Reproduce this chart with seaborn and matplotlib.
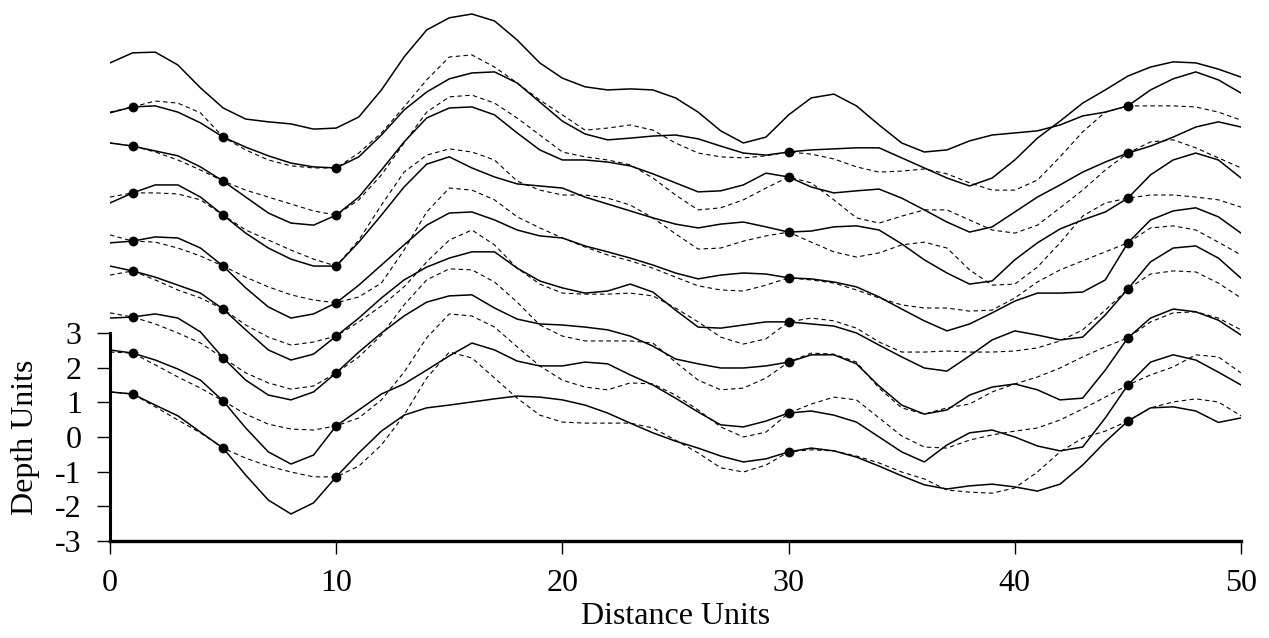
import numpy as np
import pandas as pd
import matplotlib
matplotlib.use('Agg')
import matplotlib.pyplot as plt
import seaborn as sns

# distance along the section
distance = list(range(51))

# horizons (solid = true surface, dashed = estimate), depth units
top_horizon = [10.79, 11.08, 11.10, 10.73, 10.07, 9.49, 9.17, 9.09, 9.03, 8.88, 8.91,
               9.23, 10.01, 10.96, 11.74, 12.09, 12.20, 12.00, 11.45, 10.79, 10.35,
               10.10, 10.01, 10.04, 10.01, 9.78, 9.37, 8.83, 8.48, 8.65, 9.29,
               9.78, 9.89, 9.55, 9.00, 8.48, 8.22, 8.28, 8.54, 8.71, 8.77,
               8.83, 9.00, 9.26, 9.37, 9.55, 10.01, 10.33, 10.53, 10.30, 9.92]

horizon8 = [9.35, 9.52, 9.55, 9.37, 9.06, 8.65, 8.36, 8.11, 7.90, 7.79, 7.76,
            8.08, 8.71, 9.43, 9.95, 10.33, 10.50, 10.53, 10.21, 9.66, 9.11,
            8.74, 8.57, 8.62, 8.68, 8.71, 8.60, 8.39, 8.19, 8.13, 8.22,
            8.28, 8.31, 8.34, 8.34, 8.05, 7.76, 7.47, 7.24, 7.47, 7.99,
            8.62, 9.11, 9.63, 10.01, 10.41, 10.67, 10.82, 10.79, 10.61, 10.38]
horizon8_est = [9.37, 9.52, 9.69, 9.63, 9.35, 8.65, 8.28, 7.99, 7.82, 7.76, 7.76,
                8.19, 8.77, 9.52, 10.30, 10.96, 11.02, 10.67, 10.21, 9.72, 9.29,
                8.85, 8.91, 9.00, 8.85, 8.48, 8.19, 8.08, 8.05, 8.11, 8.22,
                8.16, 8.02, 7.79, 7.64, 7.67, 7.73, 7.59, 7.33, 7.12, 7.12,
                7.41, 8.08, 8.80, 9.37, 9.55, 9.55, 9.55, 9.52, 9.37, 9.14]

horizon7 = [8.48, 8.39, 8.25, 8.11, 7.79, 7.38, 6.92, 6.46, 6.17, 6.11, 6.40,
            6.92, 7.70, 8.51, 9.20, 9.49, 9.52, 9.29, 8.77, 8.28, 7.99,
            7.99, 7.93, 7.82, 7.59, 7.33, 7.07, 7.10, 7.27, 7.61, 7.50,
            7.21, 7.04, 7.10, 7.15, 6.89, 6.55, 6.20, 5.91, 6.06, 6.49,
            6.92, 7.27, 7.64, 7.93, 8.19, 8.39, 8.65, 8.94, 9.09, 8.94]
horizon7_est = [8.48, 8.39, 8.22, 7.99, 7.70, 7.38, 7.12, 6.92, 6.72, 6.52, 6.40,
                6.84, 7.56, 8.48, 9.37, 9.81, 9.86, 9.63, 9.20, 8.71, 8.22,
                8.08, 7.99, 7.85, 7.47, 6.98, 6.55, 6.61, 6.84, 7.18, 7.50,
                7.33, 6.84, 6.32, 6.17, 6.37, 6.55, 6.55, 6.26, 5.97, 5.88,
                6.11, 6.61, 7.12, 7.70, 8.19, 8.51, 8.57, 8.34, 8.05, 7.76]

horizon6 = [6.75, 7.04, 7.27, 7.27, 6.92, 6.40, 5.88, 5.45, 5.13, 4.93, 4.93,
            5.62, 6.40, 7.21, 7.87, 8.08, 7.76, 7.50, 7.30, 7.24, 7.18,
            6.92, 6.72, 6.52, 6.32, 6.14, 6.03, 6.14, 6.20, 6.06, 5.91,
            5.94, 6.06, 6.09, 5.97, 5.57, 5.11, 4.73, 4.41, 4.50, 5.11,
            5.60, 6.00, 6.26, 6.49, 6.89, 7.56, 7.99, 8.19, 7.99, 7.47]
horizon6_est = [6.92, 7.04, 7.04, 7.01, 6.84, 6.40, 5.97, 5.68, 5.39, 5.13, 4.93,
                5.68, 6.69, 7.64, 8.13, 8.31, 8.22, 7.99, 7.38, 7.12, 6.98,
                6.98, 6.89, 6.69, 6.32, 5.86, 5.42, 5.45, 5.65, 5.80, 5.91,
                5.62, 5.34, 5.19, 5.31, 5.54, 5.62, 5.45, 4.82, 4.38, 4.41,
                4.90, 5.60, 6.37, 6.75, 6.89, 6.98, 6.98, 6.92, 6.84, 6.63]

horizon5 = [5.60, 5.65, 5.77, 5.74, 5.45, 4.93, 4.30, 3.75, 3.43, 3.55, 3.87,
            4.38, 4.96, 5.54, 6.11, 6.46, 6.49, 6.26, 5.97, 5.80, 5.74,
            5.51, 5.34, 5.16, 4.96, 4.73, 4.56, 4.67, 4.73, 4.70, 4.59,
            4.56, 4.47, 4.33, 4.04, 3.69, 3.35, 3.06, 3.26, 3.58, 3.92,
            4.15, 4.15, 4.18, 4.53, 5.60, 6.26, 6.52, 6.61, 6.35, 5.88]
horizon5_est = [5.83, 5.65, 5.62, 5.45, 5.22, 4.93, 4.61, 4.33, 4.10, 3.95, 3.87,
                4.04, 4.44, 5.39, 6.49, 7.18, 7.12, 6.84, 6.35, 6.03, 5.74,
                5.48, 5.25, 5.08, 4.87, 4.61, 4.36, 4.24, 4.21, 4.38, 4.59,
                4.53, 4.44, 4.24, 4.01, 3.81, 3.72, 3.72, 3.63, 3.66, 4.01,
                4.47, 4.82, 5.08, 5.34, 5.60, 6.03, 6.09, 5.97, 5.62, 5.25]

horizon4 = [4.93, 4.79, 4.61, 4.38, 4.15, 3.69, 3.09, 2.51, 2.22, 2.39, 2.91,
            3.43, 4.01, 4.53, 4.90, 5.16, 5.34, 5.34, 4.87, 4.50, 4.30,
            4.15, 4.21, 4.41, 4.18, 3.66, 3.17, 3.14, 3.23, 3.32, 3.32,
            3.26, 3.20, 3.00, 2.65, 2.31, 1.99, 1.90, 2.34, 2.80, 3.06,
            2.94, 2.80, 2.88, 3.52, 4.27, 5.05, 5.45, 5.51, 5.16, 4.58]
horizon4_est = [4.67, 4.79, 4.53, 4.24, 4.01, 3.69, 3.23, 2.88, 2.65, 2.74, 2.91,
                3.32, 3.78, 4.33, 5.05, 5.68, 5.97, 5.54, 4.87, 4.41, 4.15,
                4.12, 4.12, 4.15, 4.07, 3.72, 3.32, 2.88, 2.68, 2.83, 3.32,
                3.43, 3.35, 3.14, 2.74, 2.45, 2.45, 2.48, 2.45, 2.45, 2.48,
                2.57, 2.77, 3.09, 3.66, 4.27, 4.70, 4.79, 4.76, 4.44, 4.01]

horizon3 = [3.43, 3.46, 3.55, 3.43, 3.03, 2.28, 1.64, 1.21, 1.07, 1.30, 1.85,
            2.45, 3.00, 3.49, 3.89, 4.07, 4.10, 3.72, 3.40, 3.26, 3.23,
            3.17, 3.09, 2.91, 2.62, 2.25, 2.11, 1.99, 1.99, 2.05, 2.16,
            2.37, 2.37, 2.11, 1.47, 0.92, 0.66, 0.78, 1.21, 1.44, 1.53,
            1.36, 1.07, 1.12, 1.93, 2.86, 3.43, 3.69, 3.61, 3.37, 2.94]
horizon3_est = [3.58, 3.46, 3.26, 3.00, 2.71, 2.28, 1.85, 1.56, 1.38, 1.47, 1.85,
                2.31, 2.94, 3.81, 4.53, 4.85, 4.82, 4.47, 3.89, 3.23, 2.91,
                2.77, 2.77, 2.77, 2.71, 2.16, 1.64, 1.36, 1.41, 1.70, 2.16,
                2.42, 2.39, 2.16, 1.41, 0.84, 0.66, 0.84, 0.95, 1.30, 1.53,
                1.73, 1.99, 2.31, 2.60, 2.86, 3.32, 3.58, 3.61, 3.43, 3.09]

horizon2 = [2.51, 2.42, 2.22, 1.96, 1.64, 1.04, 0.26, -0.43, -0.78, -0.52, 0.32,
            0.78, 1.24, 1.53, 1.93, 2.34, 2.71, 2.51, 2.19, 2.05, 2.05,
            2.16, 2.11, 1.79, 1.50, 1.12, 0.72, 0.35, 0.29, 0.46, 0.69,
            0.75, 0.63, 0.43, 0.00, -0.43, -0.72, -0.23, 0.12, 0.20, 0.00,
            -0.26, -0.40, -0.29, 0.55, 1.50, 2.16, 2.37, 2.22, 1.87, 1.50]
horizon2_est = [2.45, 2.42, 2.08, 1.73, 1.41, 1.04, 0.66, 0.37, 0.23, 0.20, 0.32,
                0.55, 1.07, 1.87, 2.86, 3.55, 3.49, 3.17, 2.60, 2.05, 1.64,
                1.44, 1.36, 1.56, 1.53, 1.21, 0.78, 0.29, 0.00, 0.14, 0.69,
                0.95, 1.15, 1.07, 0.55, 0.03, -0.29, -0.32, -0.09, 0.06, 0.17,
                0.26, 0.49, 0.81, 1.15, 1.50, 1.79, 2.02, 2.37, 2.31, 1.85]

horizon1 = [1.30, 1.24, 0.92, 0.61, 0.14, -0.32, -1.10, -1.82, -2.22, -1.90, -1.15,
            -0.46, 0.17, 0.63, 0.84, 0.92, 1.01, 1.10, 1.18, 1.15, 1.07,
            0.92, 0.69, 0.40, 0.12, -0.12, -0.32, -0.55, -0.72, -0.63, -0.43,
            -0.32, -0.40, -0.58, -0.84, -1.12, -1.38, -1.50, -1.41, -1.36, -1.44,
            -1.56, -1.36, -0.81, -0.14, 0.46, 0.84, 0.87, 0.75, 0.42, 0.55]
horizon1_est = [1.30, 1.24, 0.87, 0.49, 0.12, -0.32, -0.61, -0.84, -1.01, -1.15, -1.15,
                -0.84, -0.23, 0.63, 1.70, 2.45, 2.28, 1.70, 1.12, 0.63, 0.43,
                0.40, 0.40, 0.40, 0.26, -0.09, -0.46, -0.89, -1.01, -0.81, -0.43,
                -0.37, -0.40, -0.55, -0.75, -1.01, -1.21, -1.53, -1.59, -1.62, -1.47,
                -1.01, -0.43, -0.03, 0.17, 0.46, 0.84, 1.01, 1.10, 1.01, 0.61]

# well picks
well_x = [1, 5, 10, 30, 45]
picks_h1 = [1.24, -0.32, -1.15, -0.43, 0.46]
picks_h2 = [2.42, 1.04, 0.32, 0.69, 1.50]
picks_h3 = [3.46, 2.28, 1.85, 2.16, 2.86]
picks_h4 = [4.79, 3.69, 2.91, 3.32, 4.27]
picks_h5 = [5.65, 4.93, 3.87, 4.59, 5.60]
picks_h6 = [7.04, 6.40, 4.93, 5.91, 6.89]
picks_h7 = [8.39, 7.38, 6.40, 7.50, 8.19]
picks_h8 = [9.52, 8.65, 7.76, 8.22, 9.55]

solid_curves = [top_horizon, horizon8, horizon7, horizon6, horizon5,
                horizon4, horizon3, horizon2, horizon1]
dashed_curves = [horizon8_est, horizon7_est, horizon6_est, horizon5_est,
                 horizon4_est, horizon3_est, horizon2_est, horizon1_est]
picks = [picks_h1, picks_h2, picks_h3, picks_h4, picks_h5, picks_h6, picks_h7, picks_h8]

solid_df = pd.concat([pd.DataFrame({'distance': distance, 'depth': c, 'curve': i})
                      for i, c in enumerate(solid_curves)])
dashed_df = pd.concat([pd.DataFrame({'distance': distance, 'depth': c, 'curve': i})
                       for i, c in enumerate(dashed_curves)])
dots_df = pd.concat([pd.DataFrame({'distance': well_x, 'depth': p}) for p in picks])

sns.set_style('ticks')
plt.rcParams['font.family'] = ['Liberation Serif', 'DejaVu Serif']
plt.rcParams['axes.unicode_minus'] = False

fig = plt.figure(figsize=(12.69, 6.38), dpi=100)
ax = fig.add_axes([110/1269, 97/638, 1131/1269, 541/638])

sns.lineplot(data=dashed_df, x='distance', y='depth', units='curve', estimator=None,
             color='black', linewidth=0.8, linestyle=(0, (4, 3)), legend=False, ax=ax,
             solid_joinstyle='round', dash_joinstyle='round')
sns.lineplot(data=solid_df, x='distance', y='depth', units='curve', estimator=None,
             color='black', linewidth=1.1, legend=False, ax=ax,
             solid_joinstyle='round')
sns.scatterplot(data=dots_df, x='distance', y='depth', color='black', s=50,
                edgecolor='black', linewidth=0, zorder=5, legend=False, ax=ax)

ax.set_xlim(0, 50)
ax.set_ylim(-3, 12.604)
ax.set_xticks([0, 10, 20, 30, 40, 50])
ax.set_yticks([-3, -2, -1, 0, 1, 2, 3])
for s in ['top', 'right']:
    ax.spines[s].set_visible(False)
ax.spines['left'].set_bounds(-3, 3)
ax.spines['left'].set_linewidth(2.2)
ax.spines['bottom'].set_linewidth(2.4)
ax.spines['left'].set_color('black')
ax.spines['bottom'].set_color('black')
ax.tick_params(axis='y', which='major', direction='out', length=9.4, width=1.0, pad=11,
               labelsize=23, left=True, right=False, color='black', labelcolor='black')
ax.tick_params(axis='x', which='major', direction='out', length=9, width=1.0, pad=11,
               labelsize=23, bottom=True, top=False, color='black', labelcolor='black')

ax.set_xlabel('Distance Units', fontsize=23, labelpad=3, color='black')
ax.set_ylabel('Depth Units', fontsize=23, color='black')
ax.yaxis.set_label_coords(-0.062, 3 / 15.604)

fig.savefig('out.png', dpi=100)
